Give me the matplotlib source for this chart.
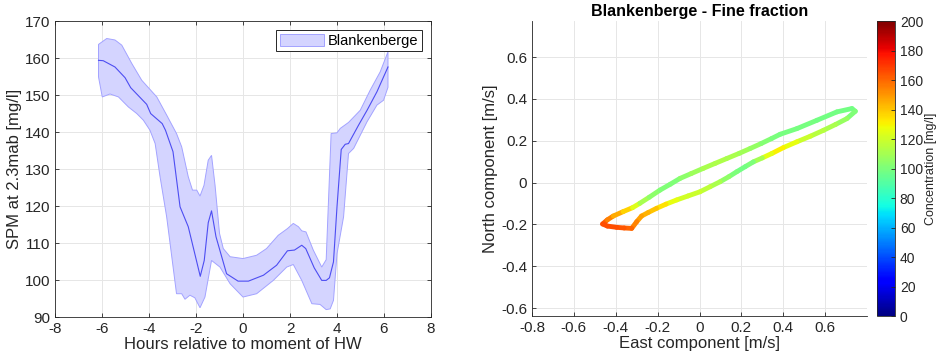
"""
Tidal mean SPM at Blankenberge and velocity hodograph coloured by concentration.
"""
import numpy as np
import matplotlib
matplotlib.use("Agg")
import matplotlib.pyplot as plt
from matplotlib.collections import LineCollection
from matplotlib.cm import ScalarMappable
from matplotlib.colors import Normalize

plt.rcParams['font.family'] = ['Liberation Sans', 'DejaVu Sans']
plt.rcParams['axes.unicode_minus'] = False

# ---- left panel: mean SPM vs hours relative to HW ----
mean_hours = [-6.15, -5.95, -5.45, -5.02, -4.78, -4.1, -3.93, -3.44, -3.3, -2.98, -2.68,
              -2.33, -1.82, -1.65, -1.48, -1.34, -1.15, -0.7, -0.21, 0.23, 0.87, 1.43,
              1.89, 2.19, 2.5, 2.67, 3.03, 3.35, 3.54, 3.68, 3.85, 4.0, 4.18, 4.35, 4.49,
              4.92, 5.28, 5.7, 6.17]
mean_spm = [159.4, 159.3, 157.6, 154.7, 152.0, 147.5, 145.0, 142.3, 140.5, 134.7, 119.8,
            114.4, 101.0, 105.3, 115.5, 118.7, 111.7, 101.7, 99.7, 99.7, 101.3, 104.0,
            107.9, 108.1, 109.4, 108.5, 103.3, 99.9, 99.9, 100.6, 104.9, 119.8, 135.3,
            136.7, 136.9, 141.9, 145.9, 150.9, 157.6]

upper_hours = [-6.15, -5.8, -5.45, -5.16, -4.73, -4.31, -3.67, -3.25, -2.83, -2.61, -2.33,
               -2.15, -1.97, -1.83, -1.66, -1.48, -1.34, -1.19, -1.0, -0.84, -0.55, 0.0,
               0.58, 1.0, 1.5, 1.89, 2.14, 2.36, 2.5, 2.68, 2.99, 3.35, 3.54, 3.75, 4.0,
               4.14, 4.49, 4.99, 5.41, 5.84, 6.17]
upper_spm = [163.7, 165.3, 164.9, 163.5, 158.5, 154.0, 149.5, 144.6, 139.6, 136.0, 127.9,
             124.3, 124.3, 122.7, 125.6, 132.4, 133.7, 125.6, 112.6, 108.5, 106.3, 105.8,
             106.7, 108.5, 112.1, 113.9, 115.3, 114.4, 113.3, 113.0, 108.1, 103.5, 105.5,
             139.6, 139.8, 141.0, 142.6, 145.9, 151.3, 156.3, 161.7]

lower_hours = [-6.15, -5.99, -5.66, -5.3, -4.88, -4.52, -4.24, -3.96, -3.74, -3.53, -3.25,
               -2.83, -2.61, -2.47, -2.26, -2.05, -1.83, -1.62, -1.34, -0.98, -0.55, 0.0,
               0.58, 1.29, 1.86, 2.14, 2.5, 2.93, 3.28, 3.54, 3.71, 3.85, 4.0, 4.28, 4.49,
               4.71, 5.28, 5.7, 5.98, 6.17]
lower_spm = [154.9, 149.5, 150.3, 149.5, 146.8, 145.0, 143.2, 140.5, 136.9, 127.9, 117.1,
             96.3, 96.3, 94.8, 95.9, 95.2, 92.5, 95.4, 105.3, 103.5, 99.0, 95.4,
             96.3, 99.9, 103.5, 104.2, 99.9, 93.6, 93.4, 92.0, 92.2, 94.5, 107.1, 117.1,
             134.2, 135.6, 142.8, 147.3, 148.6, 152.1]

# ---- right panel: hodograph (east, north) with concentration ----
east_vel = [-0.463, -0.440, -0.412, -0.365, -0.320, -0.285, -0.240, -0.189, -0.140, -0.093,
            -0.040, 0.018, 0.075, 0.130, 0.190, 0.242, 0.295, 0.345, 0.385, 0.465, 0.561,
            0.656, 0.728, 0.744, 0.704, 0.650, 0.592, 0.530, 0.465, 0.400, 0.345, 0.300,
            0.257, 0.218, 0.178, 0.140, 0.098, 0.050, 0.002, -0.055, -0.109, -0.160,
            -0.205, -0.245, -0.277, -0.300, -0.324, -0.360, -0.396, -0.440, -0.463]
north_vel = [-0.198, -0.178, -0.160, -0.139, -0.120, -0.099, -0.070, -0.036, -0.008, 0.020,
             0.043, 0.068, 0.092, 0.115, 0.140, 0.163, 0.187, 0.211, 0.231, 0.258, 0.298,
             0.338, 0.354, 0.341, 0.306, 0.278, 0.250, 0.222, 0.195, 0.167, 0.139, 0.118,
             0.099, 0.076, 0.052, 0.028, 0.004, -0.020, -0.044, -0.064, -0.083, -0.103,
             -0.123, -0.143, -0.160, -0.187, -0.219, -0.217, -0.214, -0.208, -0.198]
conc = [165, 158, 150, 142, 132, 115, 106, 102, 101, 102, 106, 110, 112, 112, 110, 108,
        104, 100, 99, 99, 98, 98, 98, 98, 104, 110, 113, 116, 122, 130, 132, 118, 102, 98,
        98, 102, 108, 114, 118, 120, 122, 130, 138, 143, 146, 150, 158, 163, 165, 166, 165]

axis_col = (0.15, 0.15, 0.15)
grid_col = (0.9, 0.9, 0.9)


def style_axes(ax, box=True):
    for side in ['left', 'bottom', 'top', 'right']:
        ax.spines[side].set_color(axis_col)
        ax.spines[side].set_linewidth(0.6)
    if not box:
        ax.spines['top'].set_visible(False)
        ax.spines['right'].set_visible(False)
    ax.tick_params(direction='in', length=3, width=0.6, colors=axis_col,
                   labelsize=11, top=box, right=box)
    ax.grid(True, color=grid_col, linewidth=0.7)
    ax.set_axisbelow(True)


fig = plt.figure(figsize=(9.41, 3.58), dpi=100)

# left
ax1 = fig.add_axes([0.0585, 0.1145, 0.3995, 0.8265])
band_x = np.concatenate([upper_hours, lower_hours[::-1]])
band_y = np.concatenate([upper_spm, lower_spm[::-1]])
ax1.fill(band_x, band_y, facecolor=(0.83, 0.83, 1.0), edgecolor=(0.64, 0.64, 1.0),
         linewidth=0.7, label='Blankenberge')
ax1.plot(mean_hours, mean_spm, color=(0.3, 0.3, 0.95), linewidth=0.8)
ax1.set_xlim(-8, 8)
ax1.set_ylim(90, 170)
ax1.set_xticks(np.arange(-8, 9, 2))
ax1.set_yticks(np.arange(90, 171, 10))
style_axes(ax1, box=True)
ax1.set_xlabel('Hours relative to moment of HW', fontsize=12, color=axis_col, labelpad=1)
ax1.set_ylabel('SPM at 2.3mab [mg/l]', fontsize=12, color=axis_col, labelpad=2)
leg = ax1.legend(loc='upper right', fontsize=10.5, fancybox=False, framealpha=1,
                 handlelength=3.0, handleheight=0.9, borderpad=0.25,
                 handletextpad=0.3, borderaxespad=0.6)
leg.get_frame().set_edgecolor(axis_col)
leg.get_frame().set_linewidth(0.7)

# right
ax2 = fig.add_axes([0.5654, 0.1173, 0.356, 0.8237])
pts = np.column_stack([east_vel, north_vel])
segs = np.stack([pts[:-1], pts[1:]], axis=1)
seg_c = (np.array(conc[:-1]) + np.array(conc[1:])) / 2.0
norm = Normalize(0, 200)
lc = LineCollection(segs, cmap='jet', norm=norm, linewidths=3.5,
                    capstyle='round', joinstyle='round')
lc.set_array(seg_c)
ax2.add_collection(lc)
ax2.set_xlim(-0.8, 0.8)
ax2.set_ylim(-0.638, 0.772)
ax2.set_xticks(np.arange(-0.8, 0.61, 0.2))
ax2.set_yticks(np.arange(-0.6, 0.61, 0.2))
ax2.set_xticklabels(['-0.8', '-0.6', '-0.4', '-0.2', '0', '0.2', '0.4', '0.6'])
ax2.set_yticklabels(['-0.6', '-0.4', '-0.2', '0', '0.2', '0.4', '0.6'])
style_axes(ax2, box=False)
ax2.set_xlabel('East component [m/s]', fontsize=12, color=axis_col, labelpad=1)
ax2.set_ylabel('North component [m/s]', fontsize=12, color=axis_col, labelpad=2)
ax2.set_title('Blankenberge - Fine fraction', fontsize=11.5, fontweight='bold', pad=4)

cax = fig.add_axes([0.932, 0.1173, 0.019, 0.8237])
cb = fig.colorbar(ScalarMappable(norm=norm, cmap='jet'), cax=cax)
cb.set_ticks(np.arange(0, 201, 20))
cb.ax.tick_params(direction='in', length=3, width=0.6, colors=axis_col, labelsize=10)
cb.outline.set_edgecolor(axis_col)
cb.outline.set_linewidth(0.6)
cb.set_label('Concentration [mg/l]', fontsize=9, color=axis_col, labelpad=1)

fig.savefig('out.png', dpi=100)
